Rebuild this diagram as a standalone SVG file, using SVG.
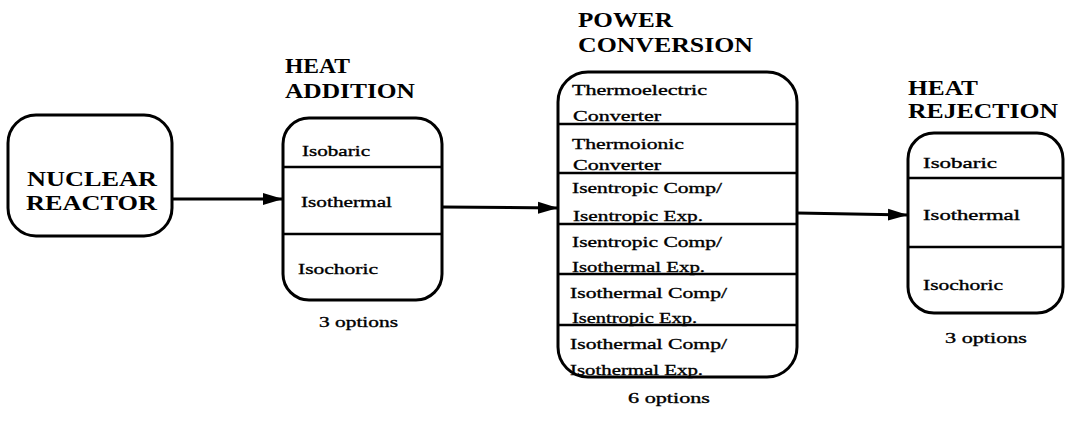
<svg xmlns="http://www.w3.org/2000/svg" width="1065" height="421" viewBox="0 0 1065 421">
<style>
.box{fill:none;stroke:#000;stroke-width:3}
.div{stroke:#000;stroke-width:2.5}
.title{font-family:"Liberation Serif","DejaVu Serif",serif;font-weight:bold;font-size:21px;fill:#000}
.item{font-family:"Liberation Serif","DejaVu Serif",serif;font-size:15px;fill:#000;stroke:#000;stroke-width:0.35}
.conn{stroke:#000;stroke-width:3;fill:none}
</style>
<defs>
<marker id="ah" markerUnits="userSpaceOnUse" markerWidth="22" markerHeight="16" refX="20" refY="8" orient="auto">
<path d="M0,2 L20,8 L0,14 Z" fill="#000"/>
</marker>
</defs>
<rect width="1065" height="421" fill="#fff"/>
<g id="connectors">
<line class="conn" x1="172" y1="199" x2="283" y2="199" marker-end="url(#ah)"/>
<line class="conn" x1="442" y1="207" x2="558" y2="208" marker-end="url(#ah)"/>
<line class="conn" x1="797" y1="213" x2="908" y2="215" marker-end="url(#ah)"/>
</g>
<g id="nuclear-reactor">
<rect class="box" x="8" y="115" width="164" height="121" rx="28"/>
<text class="title" x="27" y="186" textLength="130" lengthAdjust="spacingAndGlyphs">NUCLEAR</text>
<text class="title" x="26" y="210" textLength="131" lengthAdjust="spacingAndGlyphs">REACTOR</text>
</g>
<g id="heat-addition">
<text class="title" x="285" y="73" textLength="65" lengthAdjust="spacingAndGlyphs">HEAT</text>
<text class="title" x="285" y="98" textLength="130" lengthAdjust="spacingAndGlyphs">ADDITION</text>
<rect class="box" x="283" y="118" width="159" height="182" rx="26"/>
<line class="div" x1="283" y1="167" x2="442" y2="167"/>
<line class="div" x1="283" y1="234" x2="442" y2="234"/>
<text class="item" x="302" y="156" textLength="68" lengthAdjust="spacingAndGlyphs">Isobaric</text>
<text class="item" x="301" y="207" textLength="91" lengthAdjust="spacingAndGlyphs">Isothermal</text>
<text class="item" x="298" y="274" textLength="80" lengthAdjust="spacingAndGlyphs">Isochoric</text>
<text class="item" x="319" y="327" textLength="79" lengthAdjust="spacingAndGlyphs">3 options</text>
</g>
<g id="power-conversion">
<text class="title" x="578" y="27" textLength="95" lengthAdjust="spacingAndGlyphs">POWER</text>
<text class="title" x="578" y="52" textLength="175" lengthAdjust="spacingAndGlyphs">CONVERSION</text>
<rect class="box" x="558" y="72" width="239" height="305" rx="30"/>
<line class="div" x1="558" y1="124" x2="797" y2="124"/>
<line class="div" x1="558" y1="173" x2="797" y2="173"/>
<line class="div" x1="558" y1="224" x2="797" y2="224"/>
<line class="div" x1="558" y1="274" x2="797" y2="274"/>
<line class="div" x1="558" y1="325" x2="797" y2="325"/>
<text class="item" x="572" y="95" textLength="135" lengthAdjust="spacingAndGlyphs">Thermoelectric</text>
<text class="item" x="573" y="121" textLength="88" lengthAdjust="spacingAndGlyphs">Converter</text>
<text class="item" x="572" y="149" textLength="112" lengthAdjust="spacingAndGlyphs">Thermoionic</text>
<text class="item" x="573" y="170" textLength="88" lengthAdjust="spacingAndGlyphs">Converter</text>
<text class="item" x="572" y="193" textLength="150" lengthAdjust="spacingAndGlyphs">Isentropic Comp/</text>
<text class="item" x="573" y="221" textLength="130" lengthAdjust="spacingAndGlyphs">Isentropic Exp.</text>
<text class="item" x="572" y="247" textLength="150" lengthAdjust="spacingAndGlyphs">Isentropic Comp/</text>
<text class="item" x="572" y="272" textLength="133" lengthAdjust="spacingAndGlyphs">Isothermal Exp.</text>
<text class="item" x="570" y="298" textLength="157" lengthAdjust="spacingAndGlyphs">Isothermal Comp/</text>
<text class="item" x="572" y="323" textLength="125" lengthAdjust="spacingAndGlyphs">Isentropic Exp.</text>
<text class="item" x="570" y="349" textLength="157" lengthAdjust="spacingAndGlyphs">Isothermal Comp/</text>
<text class="item" x="570" y="375" textLength="133" lengthAdjust="spacingAndGlyphs">Isothermal Exp.</text>
<text class="item" x="628" y="403" textLength="82" lengthAdjust="spacingAndGlyphs">6 options</text>
</g>
<g id="heat-rejection">
<text class="title" x="908" y="95" font-size="20" textLength="70" lengthAdjust="spacingAndGlyphs" style="font-size:20px">HEAT</text>
<text class="title" x="908" y="118" textLength="150" lengthAdjust="spacingAndGlyphs" style="font-size:20px">REJECTION</text>
<rect class="box" x="908" y="133" width="155" height="180" rx="26"/>
<line class="div" x1="908" y1="178" x2="1063" y2="178"/>
<line class="div" x1="908" y1="247" x2="1063" y2="247"/>
<text class="item" x="923" y="168" textLength="74" lengthAdjust="spacingAndGlyphs">Isobaric</text>
<text class="item" x="923" y="220" textLength="97" lengthAdjust="spacingAndGlyphs">Isothermal</text>
<text class="item" x="923" y="290" textLength="80" lengthAdjust="spacingAndGlyphs">Isochoric</text>
<text class="item" x="945" y="343" textLength="82" lengthAdjust="spacingAndGlyphs">3 options</text>
</g>
</svg>
